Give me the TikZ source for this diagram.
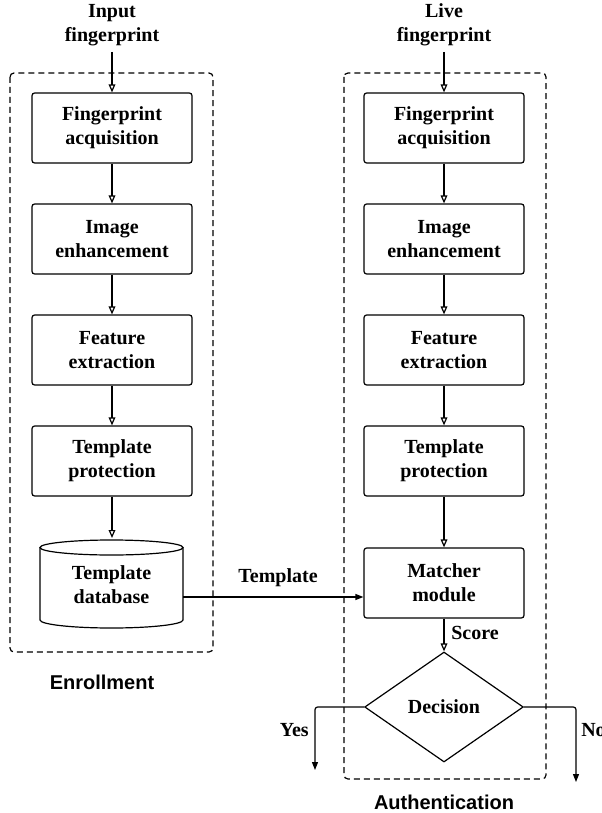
\documentclass[tikz,border=0pt]{standalone}
\usepackage{fontspec}
\setmainfont{Liberation Serif}
\setsansfont{Liberation Sans}
\usetikzlibrary{arrows.meta,shapes.geometric,calc}
\begin{document}
\begin{tikzpicture}[x=0.75pt,y=-0.75pt,
  lw/.style={line width=0.9pt},
  stepbox/.style={draw,lw,rounded corners=2pt,minimum width=120pt,minimum height=52.5pt,align=center,font=\fontsize{15}{18}\selectfont\bfseries,inner sep=0pt},
  lbl/.style={font=\fontsize{15}{18}\selectfont\bfseries,align=center,inner sep=0pt},
  grp/.style={draw,lw,dash pattern=on 4.5pt off 3pt,rounded corners=3pt},
  oarr/.style={lw,-{Triangle[open,length=6pt,width=5pt]}},
  farr/.style={lw,-{Triangle[length=6pt,width=4.5pt]}},
  grpcap/.style={font=\sffamily\bfseries\fontsize{15}{18}\selectfont,inner sep=0pt}
]
\useasboundingbox (0,0) rectangle (602,813);
% group frames
\draw[grp] (10,73) rectangle (213,652);
\draw[grp] (344,73) rectangle (546,779);
% left column
\node[lbl] (in) at (112,25) {Input\\fingerprint};
\node[stepbox] (a1) at (112,128) {Fingerprint\\acquisition};
\node[stepbox] (a2) at (112,239) {Image\\enhancement};
\node[stepbox] (a3) at (112,350) {Feature\\extraction};
\node[stepbox] (a4) at (112,461) {Template\\protection};
\draw[lw,fill=white] (40,547.5) -- (40,620) arc[start angle=180,end angle=0,x radius=71.5,y radius=8] -- (183,547.5);
\draw[lw] (111.5,547.5) ellipse[x radius=71.5,y radius=7.5];
\node[lbl,minimum width=107pt,minimum height=60pt] (db) at (111.5,585) {Template\\database};
% right column
\node[lbl] (live) at (444,25) {Live\\fingerprint};
\node[stepbox] (b1) at (444,128) {Fingerprint\\acquisition};
\node[stepbox] (b2) at (444,239) {Image\\enhancement};
\node[stepbox] (b3) at (444,350) {Feature\\extraction};
\node[stepbox] (b4) at (444,461) {Template\\protection};
\node[stepbox] (b5) at (444,583) {Matcher\\module};
\node[draw,lw,diamond,aspect=1.45,minimum width=119pt,minimum height=82.5pt,inner sep=0pt,lbl] (dec) at (444,707) {Decision};
\coordinate (yes) at (315,770);
\coordinate (no) at (576,782);
% connectors
\draw[oarr] (112,52) -- (a1.north);
\draw[oarr] (a1) -- (a2);
\draw[oarr] (a2) -- (a3);
\draw[oarr] (a3) -- (a4);
\draw[oarr] (a4.south) -- (112,538);
\draw[oarr] (444,52) -- (b1.north);
\draw[oarr] (b1) -- (b2);
\draw[oarr] (b2) -- (b3);
\draw[oarr] (b3) -- (b4);
\draw[oarr] (b4) -- (b5);
\draw[oarr] (b5) -- (dec);
\draw[farr] (183,597) -- (b5.west |- 0,597);
\draw[farr,rounded corners=2pt] (dec.west) -| (yes);
\draw[farr,rounded corners=2pt] (dec.east) -| (no);
% labels
\node[lbl] at (278,578) {Template};
\node[lbl,anchor=west] at (451,633) {Score};
\node[lbl,anchor=east] at (309,730) {Yes};
\node[lbl,anchor=west] at (581,730) {No};
\node[grpcap] at (102,682) {Enrollment};
\node[grpcap] at (444,802) {Authentication};
\end{tikzpicture}
\end{document}
